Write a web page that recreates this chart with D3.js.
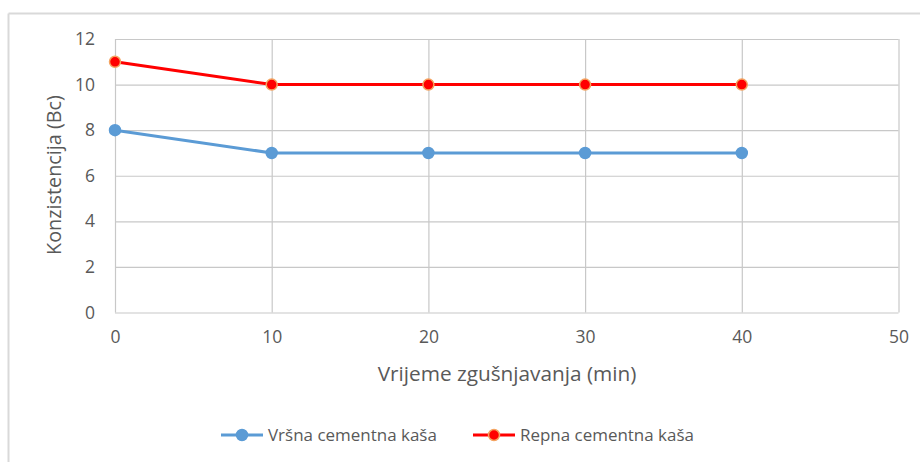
<!DOCTYPE html>
<html><head><meta charset="utf-8">
<script src="https://cdn.jsdelivr.net/npm/d3@7"></script>
<style>body{margin:0;background:#fff}svg{display:block}text{font-family:"Open Sans",sans-serif;fill:#595959}</style>
</head><body><div id="chart"></div>
<script>
const xValues = [0, 10, 20, 30, 40];
const seriesNames = ["Vršna cementna kaša", "Repna cementna kaša"];
const vrsnaValues = [8, 7, 7, 7, 7];
const repnaValues = [11, 10, 10, 10, 10];
const xTicks = [0, 10, 20, 30, 40, 50];
const yTicks = [0, 2, 4, 6, 8, 10, 12];
const xTitle = "Vrijeme zgušnjavanja (min)";
const yTitle = "Konzistencija (Bc)";

const W = 920, H = 462;
const svg = d3.select("#chart").append("svg").attr("width", W).attr("height", H);

svg.append("line").attr("x1", 8.5).attr("x2", W).attr("y1", 13.5).attr("y2", 13.5).attr("stroke", "#d9d9d9").attr("stroke-width", 2);
svg.append("line").attr("x1", 8.5).attr("x2", 8.5).attr("y1", 13.5).attr("y2", H).attr("stroke", "#d9d9d9").attr("stroke-width", 2);

const x = d3.scaleLinear().domain([0, 50]).range([115, 898.5]);
const y = d3.scaleLinear().domain([0, 12]).range([312.5, 39]);

const g = svg.append("g");
g.append("g").attr("transform", `translate(0,${y(0)})`)
  .call(d3.axisBottom(x).tickValues(xTicks).tickSize(-(y(0) - y(12))).tickFormat(""))
  .call(a => a.select(".domain").remove())
  .call(a => a.selectAll("line").attr("stroke", "#c8c8c8").attr("stroke-width", 1.2));
g.append("g").attr("transform", `translate(${x(0)},0)`)
  .call(d3.axisLeft(y).tickValues(yTicks).tickSize(-(x(50) - x(0))).tickFormat(""))
  .call(a => a.select(".domain").remove())
  .call(a => a.selectAll("line").attr("stroke", "#c8c8c8").attr("stroke-width", 1.2));

g.append("g").attr("transform", `translate(0,${y(0)})`)
  .call(d3.axisBottom(x).tickValues(xTicks).tickSize(0).tickPadding(0).tickFormat(d3.format("d")))
  .call(a => a.select(".domain").remove())
  .call(a => a.selectAll("text").attr("dy", null).attr("y", 30).style("font-size", "17.5px").attr("fill", "#595959"));
g.append("g").attr("transform", `translate(${x(0)},0)`)
  .call(d3.axisLeft(y).tickValues(yTicks).tickSize(0).tickPadding(20).tickFormat(d3.format("d")))
  .call(a => a.select(".domain").remove())
  .call(a => a.selectAll("text").style("font-size", "17.5px").attr("fill", "#595959"));

function fit(sel, target) {
  const w = sel.node().getComputedTextLength();
  const fs = parseFloat(sel.style("font-size"));
  sel.style("font-size", (fs * target / w) + "px");
}

const xt = svg.append("text").attr("x", 507).attr("y", 381).attr("text-anchor", "middle").style("font-size", "17px").text(xTitle);
fit(xt, 259);
const yt = svg.append("text").attr("transform", "translate(61,175) rotate(-90)").attr("text-anchor", "middle").style("font-size", "17px").text(yTitle);
fit(yt, 160);

const line = d3.line().x((d, i) => x(xValues[i])).y(d => y(d));
const series = [
  { name: seriesNames[0], values: vrsnaValues, color: "#5b9bd5", mfill: "#5b9bd5", mstroke: "#5b9bd5" },
  { name: seriesNames[1], values: repnaValues, color: "#ff0000", mfill: "#ff0000", mstroke: "#f4a460" }
];
series.forEach(s => {
  svg.append("path").datum(s.values).attr("d", line).attr("fill", "none")
    .attr("stroke", s.color).attr("stroke-width", 3).attr("stroke-linejoin", "round");
  svg.selectAll(null).data(s.values).enter().append("circle")
    .attr("cx", (d, i) => x(xValues[i])).attr("cy", d => y(d)).attr("r", 5.5)
    .attr("fill", s.mfill).attr("stroke", s.mstroke).attr("stroke-width", 1.5);
});

const legX = [221, 473];
series.forEach((s, i) => {
  const lg = svg.append("g").attr("transform", `translate(${legX[i]},435)`);
  lg.append("line").attr("x1", 0).attr("x2", 42).attr("stroke", s.color).attr("stroke-width", 3);
  lg.append("circle").attr("cx", 21).attr("r", 5.5).attr("fill", s.mfill).attr("stroke", s.mstroke).attr("stroke-width", 1.5);
  const t = lg.append("text").attr("x", 47).attr("y", 6).style("font-size", "16px").text(s.name);
  fit(t, i === 0 ? 169 : 174);
});
</script></body></html>
